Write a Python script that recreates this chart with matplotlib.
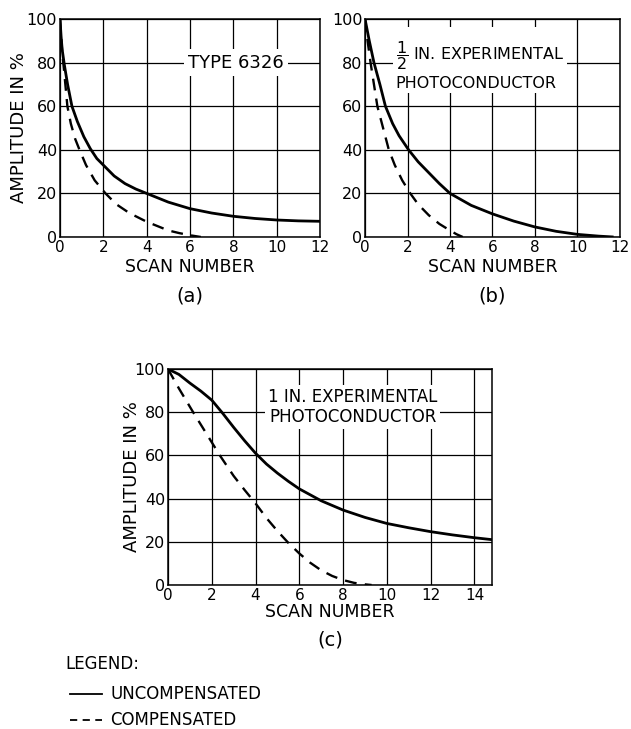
import matplotlib
matplotlib.use('Agg')
from matplotlib import pyplot as plt

# panel (a) TYPE 6326
a_solid_x = [0, 0.05, 0.1, 0.2, 0.35, 0.55, 0.8, 1.1, 1.4, 1.7, 2, 2.5, 3, 3.5, 4, 5, 6, 7, 8, 9, 10, 11, 12]
a_solid_y = [100, 92, 86, 79, 70, 60, 53, 46, 40.5, 36, 33, 28, 24.5, 22, 20, 16, 13, 11, 9.5, 8.5, 7.8, 7.4, 7.2]
a_dash_x = [0, 0.1, 0.2, 0.34, 0.5, 0.7, 0.9, 1.2, 1.6, 2.1, 2.6, 3.2, 4, 4.5, 5, 5.5, 6, 6.5]
a_dash_y = [100, 85, 75, 60, 52, 45, 40, 33, 26, 20, 15, 11, 7, 5, 3, 1.8, 0.8, 0]

# panel (b) 1/2 in. photoconductor
b_solid_x = [0, 0.2, 0.42, 0.7, 0.96, 1.3, 1.6, 2.05, 2.5, 3, 3.5, 4, 5, 6, 7, 8, 9, 10, 11, 11.7]
b_solid_y = [100, 90, 80, 70, 60, 52, 46.5, 40, 34.5, 29.5, 24.5, 20, 14.5, 10.6, 7.3, 4.6, 2.6, 1.2, 0.4, 0]
b_dash_x = [0, 0.12, 0.26, 0.42, 0.58, 0.85, 1.12, 1.4, 1.75, 2.13, 2.5, 3, 3.5, 4, 4.3, 4.6]
b_dash_y = [100, 90, 80, 70, 60, 50, 40, 33, 26, 20, 15, 10, 6, 3, 1.3, 0]

# panel (c) 1 in. photoconductor
c_solid_x = [0, 0.5, 1, 1.5, 2, 2.5, 3, 3.5, 4, 4.5, 5, 5.5, 6, 7, 8, 9, 10, 11, 12, 13, 14, 14.8]
c_solid_y = [100, 97.5, 93.5, 89.8, 85.6, 79.5, 73, 66.8, 61, 56, 51.8, 48, 44.5, 39, 34.7, 31.3, 28.5, 26.5, 24.7, 23.2, 21.9, 21]
c_dash_x = [0, 0.5, 1.15, 1.7, 2.37, 3, 3.5, 4, 4.5, 5, 5.5, 6, 6.5, 7, 7.5, 8, 8.5, 9, 9.3]
c_dash_y = [100, 91, 80, 71, 60, 50.5, 44, 37.8, 31, 25, 19.5, 14.6, 10.3, 6.8, 4.2, 2.3, 1, 0.3, 0]

y_ticks = [0, 20, 40, 60, 80, 100]
x_ticks_ab = [0, 2, 4, 6, 8, 10, 12]
x_ticks_c = [0, 2, 4, 6, 8, 10, 12, 14]

plt.rcParams['font.family'] = ['DejaVu Sans']

fig = plt.figure(figsize=(6.31, 7.29), dpi=100)


def panel(rect, sx, sy, dx, dy, xmax, xticks, letter, letter_y):
    ax = fig.add_axes(rect)
    ax.plot(sx, sy, color='black', lw=2.0, solid_capstyle='butt', zorder=4)
    ax.plot(dx, dy, color='black', lw=1.7, dashes=(5, 3.5), zorder=4)
    ax.set_xlim(0, xmax)
    ax.set_ylim(0, 100)
    ax.set_xticks(xticks)
    ax.set_yticks(y_ticks)
    ax.set_xticklabels([str(t) for t in xticks], fontsize=11)
    ax.set_yticklabels([str(t) for t in y_ticks], fontsize=11.5)
    ax.tick_params(length=0, pad=2)
    ax.grid(True, color='black', lw=0.9)
    for s in ax.spines.values():
        s.set_linewidth(1.1)
    ax.set_xlabel('SCAN NUMBER', fontsize=12.5, labelpad=2)
    ax.text(0.5, letter_y, '(%s)' % letter, transform=ax.transAxes,
            ha='center', va='center', fontsize=14)
    return ax


ax_a = panel([0.0951, 0.6749, 0.412, 0.299], a_solid_x, a_solid_y, a_dash_x, a_dash_y,
             12, x_ticks_ab, 'a', -0.27)
ax_a.set_ylabel('AMPLITUDE IN %', fontsize=13)
ax_a.yaxis.set_label_coords(-0.125, 0.5)
ax_a.text(8.12, 80, 'TYPE 6326', ha='center', va='center', fontsize=13, zorder=3,
          bbox=dict(facecolor='white', edgecolor='none', pad=3))

ax_b = panel([0.5785, 0.6749, 0.404, 0.299], b_solid_x, b_solid_y, b_dash_x, b_dash_y,
             12, x_ticks_ab, 'b', -0.27)
ax_b.text(1.45, 79, r'$\dfrac{1}{2}$' + ' IN. EXPERIMENTAL\nPHOTOCONDUCTOR', ha='left',
          va='center', fontsize=11.5, linespacing=1.3, zorder=3,
          bbox=dict(facecolor='white', edgecolor='none', pad=2))

ax_c = panel([0.2662, 0.1975, 0.5135, 0.2963], c_solid_x, c_solid_y, c_dash_x, c_dash_y,
             14.8, x_ticks_c, 'c', -0.255)
ax_c.xaxis.labelpad = 0
ax_c.set_ylabel('AMPLITUDE IN %', fontsize=13)
ax_c.yaxis.set_label_coords(-0.083, 0.5)
ax_c.text(8.45, 82.5, '1 IN. EXPERIMENTAL\nPHOTOCONDUCTOR', ha='center', va='center',
          fontsize=12, linespacing=1.15, zorder=3,
          bbox=dict(facecolor='white', edgecolor='none', pad=2))

# legend block
fig.text(65 / 631, 1 - 664 / 729, 'LEGEND:', fontsize=12, va='center', ha='left')
fig.add_artist(plt.Line2D([70 / 631, 102 / 631], [1 - 694 / 729] * 2, color='black', lw=1.3))
fig.text(110 / 631, 1 - 694 / 729, 'UNCOMPENSATED', fontsize=12, va='center', ha='left')
fig.add_artist(plt.Line2D([70 / 631, 102 / 631], [1 - 720 / 729] * 2, color='black', lw=1.3,
                          dashes=(4, 3)))
fig.text(110 / 631, 1 - 720 / 729, 'COMPENSATED', fontsize=12, va='center', ha='left')

fig.savefig('out.png', dpi=100)
